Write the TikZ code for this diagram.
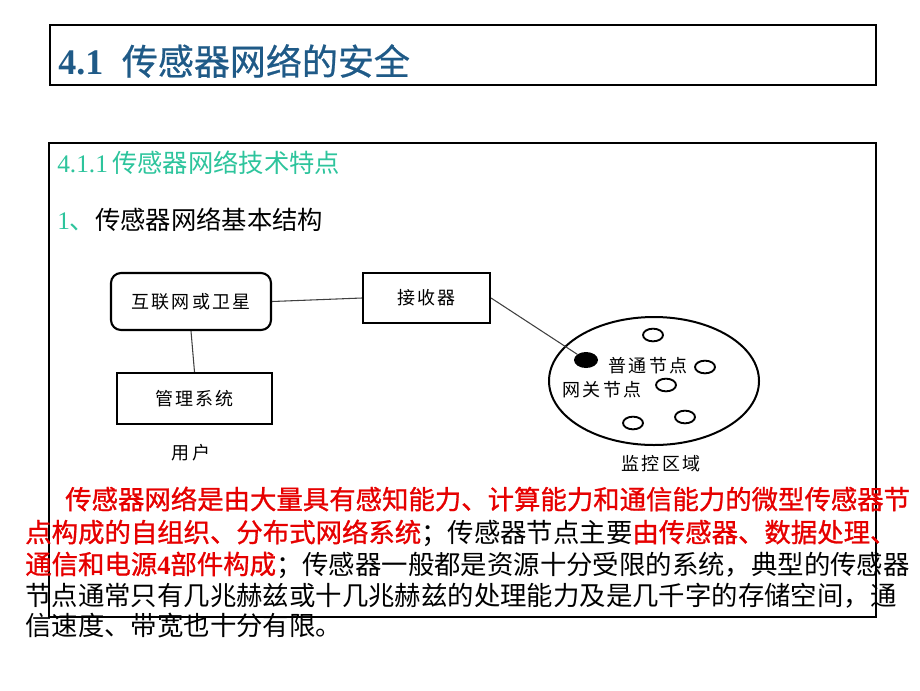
\documentclass[tikz,border=0pt]{standalone}
\usepackage{fontspec}
\setmainfont{Liberation Serif}
\newfontfamily\cjk{Noto Sans CJK SC}
\newfontfamily\cjkbold{Noto Sans CJK SC}[FakeBold=1]
\newfontfamily\cjktitle{Noto Sans CJK SC}[FakeBold=0.6]
\newfontfamily\cjkwide{Noto Sans CJK SC}[LetterSpace=12]
\usetikzlibrary{shapes.geometric, positioning}

\definecolor{titleblue}{RGB}{31,90,135}
\definecolor{headteal}{RGB}{45,196,156}
\definecolor{keyred}{RGB}{230,0,0}

\begin{document}
\begin{tikzpicture}[x=0.75pt, y=-0.75pt]
    \tikzset{
        frame/.style = {draw=black, line width=0.8pt},
        unit/.style = {rectangle, draw=black, line width=1.6pt, inner sep=0pt, font=\fontsize{13.5pt}{16pt}\cjkwide},
        link/.style = {draw=black!75, line width=0.8pt},
        sensor/.style = {ellipse, draw=black, line width=1.4pt, minimum width=15pt, minimum height=9.5pt, inner sep=0pt},
        tag/.style = {font=\fontsize{13.5pt}{16pt}\cjkwide, inner sep=0pt},
        para/.style = {anchor=west, inner sep=0pt, font=\fontsize{19.8pt}{24pt}\cjk}
    }
    \useasboundingbox (0,0) rectangle (920,690);

    % frames
    \draw [frame] (50,25) rectangle (876,85);
    \draw [frame] (49,143) rectangle (876,617);

    % headings
    \node (title) [anchor=west, inner sep=0pt, text=titleblue] at (58,61)
        {\fontsize{27pt}{32pt}\selectfont{\bfseries 4.1}\hspace{14pt}\cjktitle 传感器网络的安全};
    \node (sub) [anchor=west, inner sep=0pt, text=headteal] at (57,163)
        {\fontsize{19pt}{23pt}\selectfont 4.1.1\,\cjk 传感器网络技术特点};
    \node (item) [anchor=west, inner sep=0pt] at (57,220)
        {\fontsize{19pt}{23pt}\selectfont\textcolor{headteal}{1\cjk 、}\cjk 传感器网络基本结构};

    % structure diagram
    \node (sat) [unit, rounded corners=7.5pt, minimum width=120pt, minimum height=42.75pt] at (191,301.5) {互联网或卫星};
    \node (recv) [unit, minimum width=95.25pt, minimum height=37.5pt] at (426.5,298) {接收器};
    \node (mgmt) [unit, minimum width=116.25pt, minimum height=38.25pt] at (194.5,398.5) {管理系统};
    \node (user) [tag] at (191,453) {用户};

    \node (area) [ellipse, draw=black, line width=1.5pt, minimum width=157.5pt, minimum height=96pt, inner sep=0pt] at (654,381) {};
    \node (gw) [ellipse, fill=black, minimum width=18pt, minimum height=12pt, inner sep=0pt] at (586,360) {};
    \node (s1) [sensor] at (653,335) {};
    \node (s2) [sensor] at (705,367) {};
    \node (s3) [sensor] at (666,385) {};
    \node (s4) [sensor] at (685,417) {};
    \node (s5) [sensor] at (633,423) {};
    \node (normal) [tag] at (648,366) {普通节点};
    \node (gwlabel) [tag] at (602,390) {网关节点};
    \node (arealabel) [tag] at (661,464) {监控区域};

    \draw [link] (sat.east) -- (recv.west);
    \draw [link] (sat.south) -- (mgmt.north);
    \draw [link] (recv.east) -- (gw);

    % paragraph
    \node (p1) [para, text=keyred] at (65,499) {\cjkbold 传感器网络是由大量具有感知能力、计算能力和通信能力的微型传感器节};
    \node (p2) [para] at (25,533) {\textcolor{keyred}{\cjkbold 点构成的自组织、分布式网络系统}；传感器节点主要\textcolor{keyred}{\cjkbold 由传感器、数据处理、}};
    \node (p3) [para] at (25,565) {\textcolor{keyred}{\cjkbold 通信和电源{\rmfamily\bfseries 4}部件构成}；传感器一般都是资源十分受限的系统，典型的传感器};
    \node (p4) [para] at (25,596) {节点通常只有几兆赫兹或十几兆赫兹的处理能力及是几千字的存储空间，通};
    \node (p5) [para] at (25,626) {信速度、带宽也十分有限。};
\end{tikzpicture}
\end{document}
